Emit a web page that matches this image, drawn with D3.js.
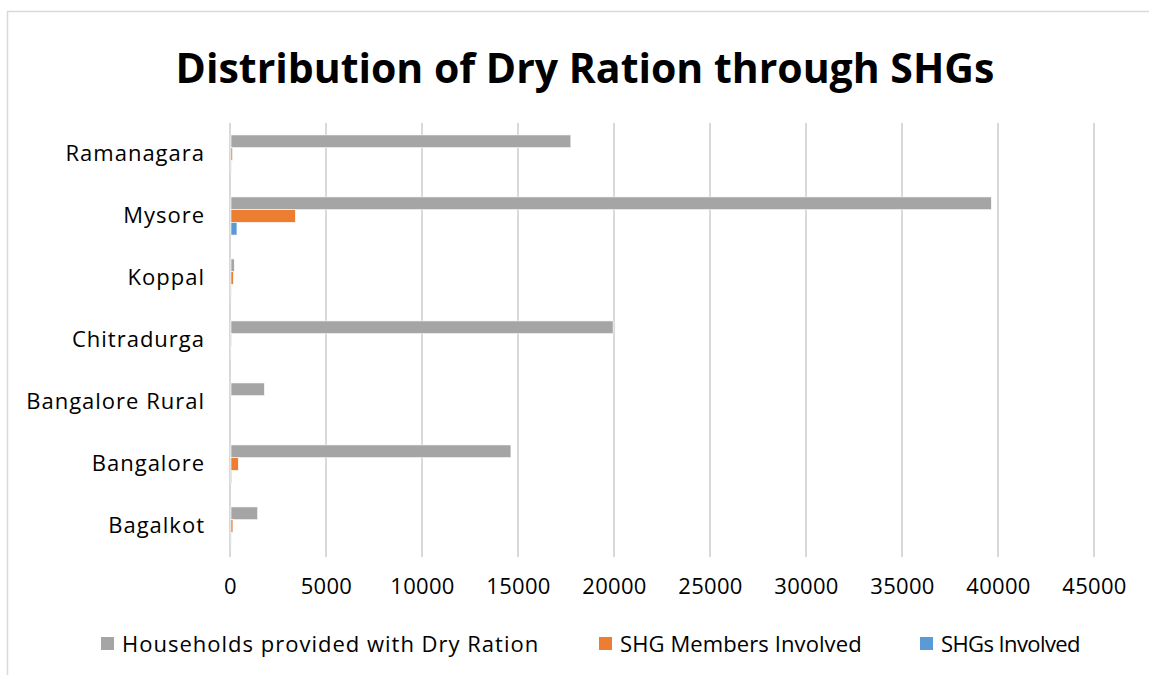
<!DOCTYPE html>
<html lang="en">
<head>
<meta charset="UTF-8">
<title>Distribution of Dry Ration through SHGs</title>
<script src="https://d3js.org/d3.v7.min.js"></script>
<style>
  html, body { margin: 0; padding: 0; background: #fff; }
  svg { display: block; font-family: "Open Sans", "Noto Sans", sans-serif; }
</style>
</head>
<body>
<svg id="chart" width="1149" height="675"></svg>
<script>
// districts, top to bottom as drawn
var districts = ["Ramanagara", "Mysore", "Koppal", "Chitradurga", "Bangalore Rural", "Bangalore", "Bagalkot"];
var seriesNames = ["Households provided with Dry Ration", "SHG Members Involved", "SHGs Involved"];
var households = [17700, 39600, 170, 19900, 1740, 14580, 1390];
var shgMembers = [80, 3350, 120, 20, 0, 380, 100];
var shgs = [10, 310, 10, 2, 0, 30, 8];
var xTicks = [0, 5000, 10000, 15000, 20000, 25000, 30000, 35000, 40000, 45000];
var colors = ["#a5a5a5", "#ed7d31", "#5b9bd5"];

var seriesValues = [households, shgMembers, shgs];

var svg = d3.select("#chart");

// outer chart frame (cropped on right/bottom)
svg.append("rect")
    .attr("x", 7.5).attr("y", 11.5)
    .attr("width", 1200).attr("height", 700)
    .attr("fill", "#fff")
    .attr("stroke", "#d9d9d9")
    .attr("stroke-width", 1.5);

// title
svg.append("text")
    .attr("x", 585).attr("y", 83)
    .attr("text-anchor", "middle")
    .style("font-size", "41px")
    .style("font-weight", "bold")
    .style("fill", "#000")
    .text("Distribution of Dry Ration through SHGs");

var xScale = d3.scaleLinear().domain([0, 45000]).range([230, 1094]);
var yScale = d3.scaleBand().domain(districts).range([123, 557]);
var groupH = yScale.bandwidth() * 0.615;
var inner = d3.scaleBand().domain(seriesNames).range([0, groupH]);

// vertical gridlines
svg.append("g")
    .selectAll("line")
    .data(xTicks)
    .enter().append("line")
    .attr("x1", d => xScale(d)).attr("x2", d => xScale(d))
    .attr("y1", 123).attr("y2", 557)
    .attr("stroke", "#d9d9d9")
    .attr("stroke-width", 2);

// bars
var groups = svg.append("g").selectAll("g")
    .data(districts)
    .enter().append("g")
    .attr("transform", d => "translate(0," + (yScale(d) + (yScale.bandwidth() - groupH) / 2) + ")");

groups.selectAll("rect")
    .data((d, i) => seriesNames.map((s, j) => ({ s: s, j: j, v: seriesValues[j][i] })))
    .enter().append("rect")
    .attr("x", xScale(0) + 1)
    .attr("y", d => inner(d.s))
    .attr("width", d => Math.max(0, xScale(d.v) - xScale(0)))
    .attr("height", inner.bandwidth())
    .attr("fill", d => colors[d.j])
    .attr("stroke", "#fff")
    .attr("stroke-width", 0.6);

// x axis labels
var xAxis = d3.axisBottom(xScale).tickValues(xTicks).tickSize(0).tickPadding(0).tickFormat(d3.format("d"));
var xg = svg.append("g")
    .attr("transform", "translate(0,578)")
    .call(xAxis);
xg.select(".domain").remove();
xg.selectAll("text")
    .style("font-family", "'Open Sans', sans-serif")
    .style("font-size", "22px")
    .style("letter-spacing", "0.3px")
    .style("fill", "#000");

// category labels
var yAxis = d3.axisLeft(yScale).tickSize(0).tickPadding(0);
var yg = svg.append("g")
    .attr("transform", "translate(205,0)")
    .call(yAxis);
yg.select(".domain").remove();
yg.selectAll("text")
    .style("font-family", "'Open Sans', sans-serif")
    .style("font-size", "22px")
    .style("letter-spacing", "1px")
    .style("fill", "#000");

// legend
var legendX = [101, 599, 920];
var legendSpacing = [1, 0.1, -0.6];
var legend = svg.append("g").selectAll("g")
    .data(seriesNames)
    .enter().append("g")
    .attr("transform", (d, i) => "translate(" + legendX[i] + ",637)");
legend.append("rect")
    .attr("width", 13).attr("height", 13)
    .attr("fill", (d, i) => colors[i]);
legend.append("text")
    .attr("x", 21).attr("y", 7)
    .attr("dy", "0.35em")
    .style("font-size", "22px")
    .style("letter-spacing", (d, i) => legendSpacing[i] + "px")
    .style("fill", "#000")
    .text(d => d);
</script>
</body>
</html>
